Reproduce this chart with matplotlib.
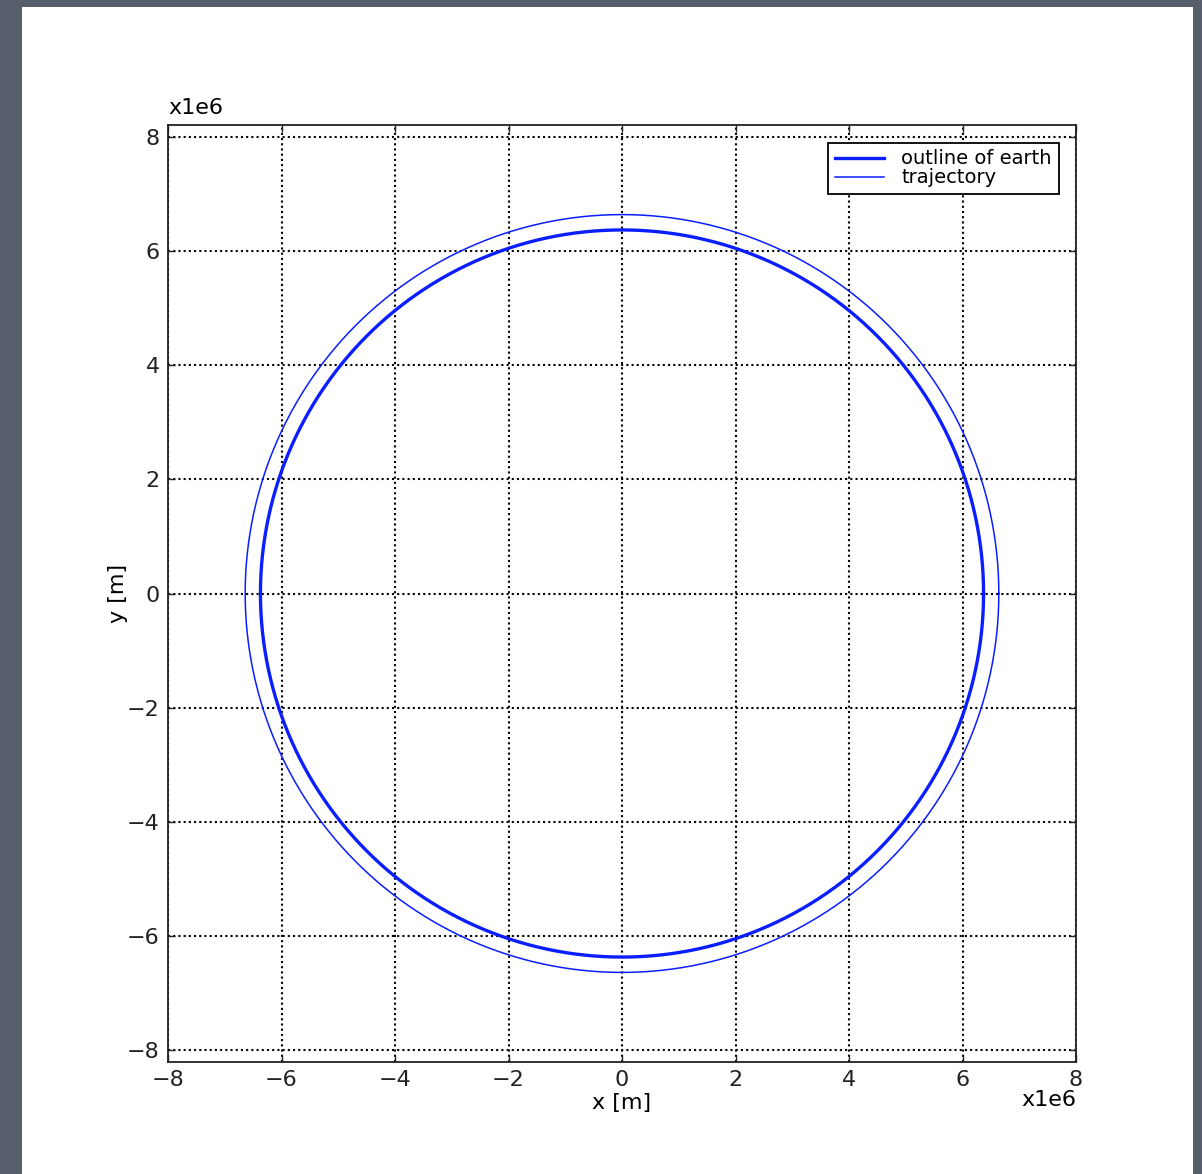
import numpy as np
import matplotlib.pyplot as plt
from matplotlib.patches import Rectangle
from matplotlib.ticker import FuncFormatter

# radii in metres
r_earth = 6.371e6
r_orbit = 6.64e6
ticks = [-8e6, -6e6, -4e6, -2e6, 0, 2e6, 4e6, 6e6, 8e6]

W, H = 1202, 1174
fig = plt.figure(figsize=(W / 100, H / 100), dpi=100, facecolor='#575e6c')
# white slide page, kept behind the axes
fig.patches.append(Rectangle((22 / W, 0), 1171 / W, (H - 7) / H,
                             transform=fig.transFigure, facecolor='white',
                             edgecolor='none', zorder=-10))

ax = fig.add_axes([168 / W, 112 / H, 908 / W, 937 / H])
th = np.linspace(0, 2 * np.pi, 721)
ax.plot(r_earth * np.cos(th), r_earth * np.sin(th), color='#0a1eff', lw=2.4,
        label='outline of earth')
ax.plot(r_orbit * np.cos(th), r_orbit * np.sin(th), color='#0a1eff', lw=1.1,
        label='trajectory')

ax.set_xlim(-8e6, 8e6)
ax.set_ylim(-8.21e6, 8.21e6)
ax.set_xticks(ticks)
ax.set_yticks(ticks)


def mfmt(v, p):
    n = int(round(v / 1e6))
    return '\u2212%d' % -n if n < 0 else '%d' % n


ax.xaxis.set_major_formatter(FuncFormatter(mfmt))
ax.yaxis.set_major_formatter(FuncFormatter(mfmt))
ax.tick_params(direction='in', length=5, width=1, top=True, right=True,
               labelsize=16, pad=6, colors='#222222')
for s in ax.spines.values():
    s.set_linewidth(1.3)
    s.set_color('#222222')
ax.grid(True, color='black', linestyle=(0, (1, 1.5)), linewidth=1.5)

ax.set_xlabel('x [m]', fontsize=16, labelpad=2)
ax.set_ylabel('y [m]', fontsize=16, labelpad=-1)
ax.text(0, 1.008, 'x1e6', transform=ax.transAxes, fontsize=16,
        ha='left', va='bottom')
ax.text(1, -0.03, 'x1e6', transform=ax.transAxes, fontsize=16,
        ha='right', va='top')

leg = ax.legend(loc='upper right', fontsize=14, fancybox=False,
                framealpha=1, edgecolor='black', handlelength=2.5,
                handletextpad=0.9, borderpad=0.35, labelspacing=0.0,
                borderaxespad=0.9)
leg.get_frame().set_linewidth(1.3)

fig.savefig('out.png', dpi=100, facecolor=fig.get_facecolor())
